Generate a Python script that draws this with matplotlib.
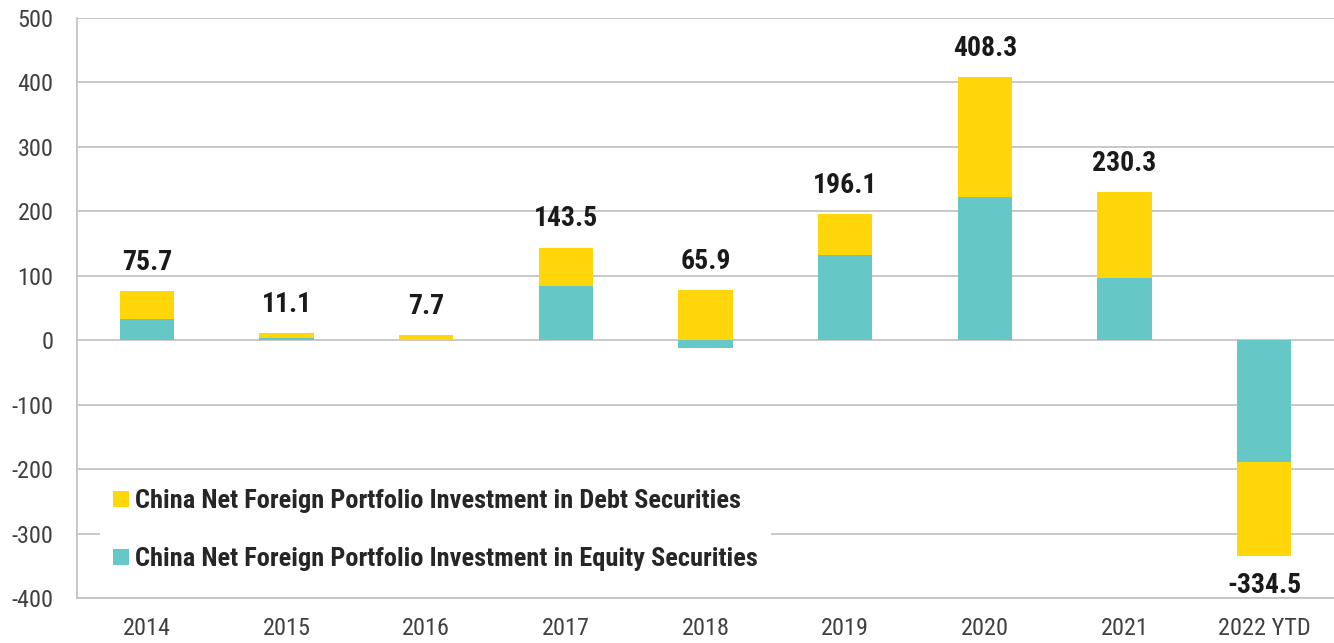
import matplotlib
matplotlib.use("Agg")
import matplotlib.pyplot as plt
from matplotlib.patches import Patch

categories = ["2014", "2015", "2016", "2017", "2018", "2019", "2020", "2021", "2022 YTD"]
equity = [32.6, 3.5, 0.0, 84.3, -11.4, 131.5, 222.5, 97.3, -188.4]
debt = [43.1, 7.6, 7.7, 59.2, 77.3, 64.6, 185.8, 133.0, -146.1]
totals = [75.7, 11.1, 7.7, 143.5, 65.9, 196.1, 408.3, 230.3, -334.5]
yticks = [500, 400, 300, 200, 100, 0, -100, -200, -300, -400]
legend_labels = ["China Net Foreign Portfolio Investment in Debt Securities",
                 "China Net Foreign Portfolio Investment in Equity Securities"]

plt.rcParams["font.family"] = ["Roboto Condensed", "DejaVu Sans"]
plt.rcParams["axes.unicode_minus"] = False

YELLOW = "#FFD60A"
TEAL = "#66C8C6"
GRID = "#C4C4C4"

fig = plt.figure(figsize=(13.34, 6.43), dpi=100)
ax = fig.add_axes([77 / 1334, 1 - 598 / 643, 1 - 77 / 1334, (598 - 18) / 643])

x = list(range(len(categories)))
w = 0.39
ax.bar(x, equity, width=w, color=TEAL, zorder=3, edgecolor="none")
bottoms = [e if (e >= 0) == (d >= 0) else 0 for e, d in zip(equity, debt)]
ax.bar(x, debt, width=w, bottom=bottoms, color=YELLOW, zorder=3, edgecolor="none")

for i, t in enumerate(totals):
    if t >= 0:
        top = max(bottoms[i] + debt[i], equity[i], 0)
        ax.annotate(f"{t:.1f}", (i, top), xytext=(0, 11), textcoords="offset points",
                    ha="center", va="bottom", fontsize=20, fontweight="bold", color="#1a1a1a")
    else:
        bot = min(bottoms[i] + debt[i], equity[i])
        ax.annotate(f"{t:.1f}", (i, bot), xytext=(0, -12), textcoords="offset points",
                    ha="center", va="top", fontsize=20, fontweight="bold", color="#1a1a1a")

ax.set_xlim(-0.5, len(categories) - 0.5)
ax.set_ylim(-400, 500)
ax.set_yticks(yticks)
ax.set_xticks(x)
ax.set_xticklabels(categories)
ax.tick_params(axis="both", length=0, labelsize=17.5, colors="#404040")
ax.tick_params(axis="y", pad=17)
ax.tick_params(axis="x", pad=14)
ax.grid(axis="y", color=GRID, linewidth=1.3, zorder=0)
for s in ["top", "right"]:
    ax.spines[s].set_visible(False)
for s in ["left", "bottom"]:
    ax.spines[s].set_color(GRID)
    ax.spines[s].set_linewidth(1.3)

handles = [Patch(facecolor=YELLOW, edgecolor="none"), Patch(facecolor=TEAL, edgecolor="none")]
leg = ax.legend(handles, legend_labels, loc="lower left", bbox_to_anchor=(0.0183, 0.023),
                frameon=True, fancybox=False, framealpha=1, edgecolor="none",
                prop={"size": 19, "weight": "bold"},
                labelspacing=1.3, handlelength=0.59, handleheight=0.59, handletextpad=0.25,
                borderpad=0.5, borderaxespad=0)
for t in leg.get_texts():
    t.set_color("#262626")
leg.set_zorder(5)

fig.savefig("out.png", dpi=100)
